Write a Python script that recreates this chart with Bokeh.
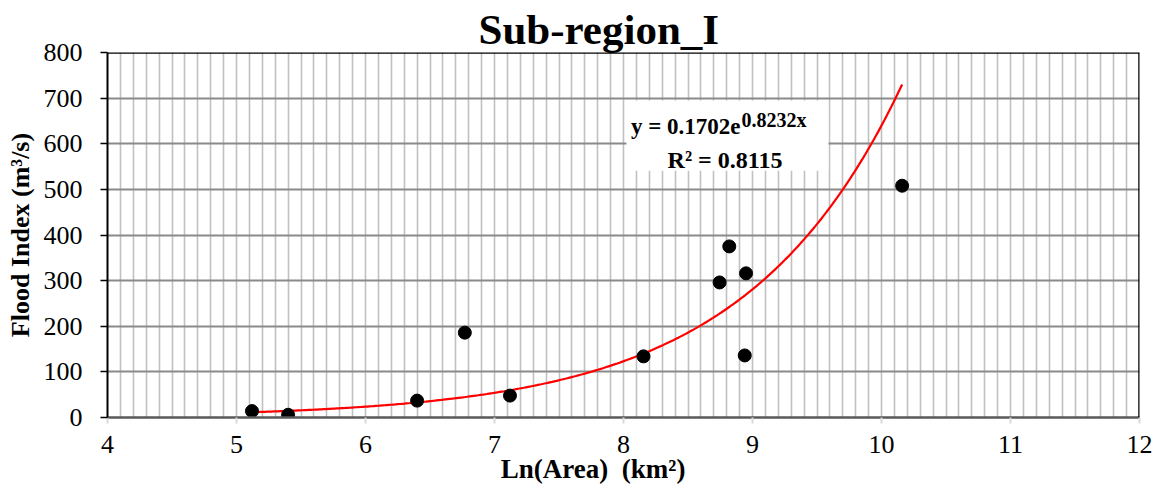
import numpy as np
from bokeh.plotting import figure
from bokeh.models import (Range1d, SingleIntervalTicker, FixedTicker, Span,
                          BoxAnnotation, Label)
from bokeh.embed import file_html
from bokeh.resources import INLINE

# ---- data ----
ln_area = [5.12, 5.40, 6.40, 6.77, 7.12, 8.155, 8.745, 8.82, 8.95, 8.94, 10.16]
flood_index = [14, 6, 37, 186, 48, 134, 296, 375, 316, 136, 508]

# exponential trendline shown on the chart: y = a * exp(b * x)
trend_a = 0.1702
trend_b = 0.8232
trend_r2 = 0.8115

x_ticks = [4, 5, 6, 7, 8, 9, 10, 11, 12]
y_ticks = [0, 100, 200, 300, 400, 500, 600, 700, 800]

title_text = "Sub-region_I"
x_label = "Ln(Area) \u00a0(km\u00b2)"
y_label = "Flood Index (m\u00b3/s)"

FONT = "Liberation Serif"

trend_x = np.linspace(min(ln_area), max(ln_area), 300)
trend_y = trend_a * np.exp(trend_b * trend_x)

p = figure(width=1152, height=486, output_backend="svg", toolbar_location=None,
           x_range=Range1d(4, 12), y_range=Range1d(0, 800),
           min_border_left=107, min_border_right=13, min_border_top=52,
           min_border_bottom=69)
p.outline_line_color = None
p.background_fill_color = "white"
p.border_fill_color = "white"

# title
p.title.text = title_text
p.title.text_font = FONT
p.title.text_font_size = "43px"
p.title.text_font_style = "bold"
p.title.align = "left"
p.title.offset = 371
p.title.standoff = 0
p.title.text_color = "black"

# grids
p.xgrid.ticker = SingleIntervalTicker(interval=0.1, num_minor_ticks=0)
p.xgrid.grid_line_color = "#c0c0c0"
p.xgrid.grid_line_width = 1.6
p.ygrid.ticker = FixedTicker(ticks=y_ticks)
p.ygrid.grid_line_color = "#8a8a8a"
p.ygrid.grid_line_width = 2

# x axis
xa = p.xaxis[0]
xa.ticker = FixedTicker(ticks=x_ticks)
xa.axis_line_color = "#595959"
xa.axis_line_width = 2.5
xa.major_tick_line_color = "#d9d9d9"
xa.major_tick_line_width = 2
xa.major_tick_in = 0
xa.major_tick_out = 6
xa.minor_tick_line_color = None
xa.major_label_text_font = FONT
xa.major_label_text_font_size = "26px"
xa.major_label_text_color = "black"
xa.major_label_standoff = 12
# trailing no-break spaces shift the centred label left, as in the reference
xa.axis_label = x_label + "\u00a0" * 9
xa.axis_label_text_font = FONT
xa.axis_label_text_font_size = "27px"
xa.axis_label_text_font_style = "bold"
xa.axis_label_text_color = "black"
xa.axis_label_standoff = -2

# y axis
ya = p.yaxis[0]
ya.ticker = FixedTicker(ticks=y_ticks)
ya.axis_line_color = "black"
ya.axis_line_width = 2
ya.major_tick_line_color = "black"
ya.major_tick_line_width = 1.5
ya.major_tick_in = 0
ya.major_tick_out = 7
ya.minor_tick_line_color = None
ya.major_label_text_font = FONT
ya.major_label_text_font_size = "26px"
ya.major_label_text_color = "black"
ya.major_label_standoff = 18
ya.axis_label = y_label
ya.axis_label_text_font = FONT
ya.axis_label_text_font_size = "26px"
ya.axis_label_text_font_style = "bold"
ya.axis_label_text_color = "black"
ya.axis_label_standoff = 6

# top and right frame borders
p.add_layout(Span(location=800, dimension="width", line_color="black", line_width=2.5))
p.add_layout(Span(location=12, dimension="height", line_color="black", line_width=2.5))

# trendline and points
p.line(trend_x, trend_y, line_color="red", line_width=2.2)
p.scatter(ln_area, flood_index, size=13, fill_color="black", line_color="black")

# equation box
p.add_layout(BoxAnnotation(left=8.023, right=9.589, bottom=541, top=695,
                           fill_color="white", fill_alpha=1.0, line_color=None))
p.add_layout(Label(x=8.907, y=638, text="y = %.4fe" % trend_a, text_font=FONT,
                   text_font_size="23px", text_font_style="bold", text_align="right",
                   text_baseline="alphabetic", text_color="black"))
p.add_layout(Label(x=8.915, y=653, text="%.4fx" % trend_b, text_font=FONT,
                   text_font_size="20px", text_font_style="bold", text_align="left",
                   text_baseline="alphabetic", text_color="black"))
p.add_layout(Label(x=8.787, y=565, text="R\u00b2 = %.4f" % trend_r2, text_font=FONT,
                   text_font_size="24px", text_font_style="bold", text_align="center",
                   text_baseline="alphabetic", text_color="black"))

open("out.html", "w").write(file_html(p, INLINE))
